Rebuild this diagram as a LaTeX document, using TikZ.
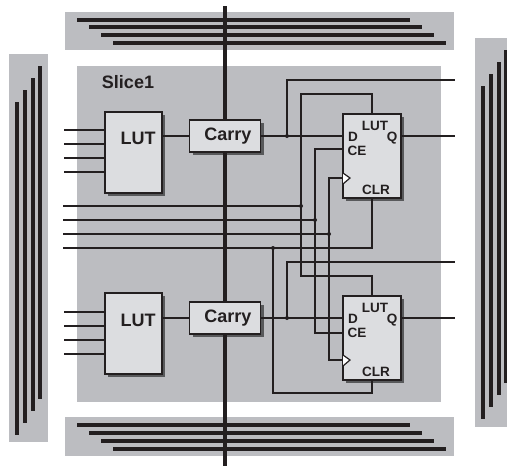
\documentclass[tikz,border=0pt]{standalone}
\usepackage{fontspec}
\setmainfont{Liberation Sans}
\usetikzlibrary{positioning,shadows}
\definecolor{slicegray}{RGB}{188,189,193}
\definecolor{boxgray}{RGB}{220,221,224}
\definecolor{wireblack}{RGB}{35,31,32}
\definecolor{shadowgray}{RGB}{88,89,91}
\tikzset{
  panel/.style={fill=slicegray,draw=none},
  trackline/.style={line width=4pt,color=wireblack},
  wire/.style={line width=2pt,color=wireblack},
  blockbox/.style={draw=wireblack,line width=1.2pt,fill=boxgray,inner sep=0pt,outer sep=0pt,
    drop shadow={shadow xshift=3pt,shadow yshift=-3pt,fill=shadowgray,opacity=1}},
  lutbox/.style={blockbox,minimum width=57pt,minimum height=81pt},
  carrybox/.style={blockbox,minimum width=71pt,minimum height=32pt},
  ffbox/.style={blockbox,minimum width=58pt,minimum height=84pt},
  biglabel/.style={anchor=base,inner sep=0pt,text=wireblack,font=\bfseries\fontsize{18}{20}\selectfont},
  pinlabel/.style={anchor=base,inner sep=0pt,text=wireblack,font=\bfseries\fontsize{13.5}{15}\selectfont},
  junction/.style={circle,fill=wireblack,inner sep=0pt,minimum size=4pt},
}
\begin{document}
\begin{tikzpicture}[x=1pt,y=-1pt]
    \useasboundingbox (0,0) rectangle (507,466);
    % routing channels
    \fill[panel] (65,12) rectangle (454,50);
    \fill[panel] (65,417) rectangle (454,456);
    \fill[panel] (9,54) rectangle (48,442);
    \fill[panel] (475,38) rectangle (507,427);
    \fill[panel] (77,66) rectangle (441,402);
    \draw[trackline] (77,20)--(410,20);
    \draw[trackline] (89,27)--(422,27);
    \draw[trackline] (101,35)--(434,35);
    \draw[trackline] (113,43)--(446,43);
    \draw[trackline] (77,425)--(410,425);
    \draw[trackline] (89,433)--(422,433);
    \draw[trackline] (101,441)--(434,441);
    \draw[trackline] (113,449)--(446,449);
    \draw[trackline] (17,102)--(17,435);
    \draw[trackline] (25,90)--(25,423);
    \draw[trackline] (33,78)--(33,411);
    \draw[trackline] (40,66)--(40,399);
    \draw[trackline] (483,86)--(483,419);
    \draw[trackline] (491,74)--(491,407);
    \draw[trackline] (499,62)--(499,395);
    \draw[trackline] (506,50)--(506,383);

    % blocks
    \node[lutbox] (lutA) at (133.5,152.5) {};
    \node[lutbox] (lutB) at (133.5,333.5) {};
    \node[carrybox] (carryA) at (225,136) {};
    \node[carrybox] (carryB) at (225,318) {};
    \node[ffbox] (ffA) at (372,156) {};
    \node[ffbox] (ffB) at (372,338) {};

    \node[biglabel] (sliceName) at (128,88) {Slice1};
    \node[biglabel] (lutAName) at (138,144) {LUT};
    \node[biglabel] (lutBName) at (138,326) {LUT};
    \node[biglabel] (carryAName) at (228,140) {Carry};
    \node[biglabel] (carryBName) at (228,322) {Carry};

    \node[pinlabel] (ffALut) at (375,130) {LUT};
    \node[pinlabel] (ffAD) at (353,141) {D};
    \node[pinlabel] (ffAQ) at (392,141) {Q};
    \node[pinlabel] (ffACe) at (357,155) {CE};
    \node[pinlabel] (ffAClr) at (376,194) {CLR};
    \node[pinlabel] (ffBLut) at (375,312) {LUT};
    \node[pinlabel] (ffBD) at (353,323) {D};
    \node[pinlabel] (ffBQ) at (392,323) {Q};
    \node[pinlabel] (ffBCe) at (357,337) {CE};
    \node[pinlabel] (ffBClr) at (376,376) {CLR};

    % free ends
    \coordinate (carryTop) at (225,6);
    \coordinate (carryEnd) at (225,466);
    \coordinate (inA) at (64,130);
    \coordinate (inB) at (64,144);
    \coordinate (inC) at (64,158);
    \coordinate (inD) at (64,172);
    \coordinate (inE) at (64,312);
    \coordinate (inF) at (64,326);
    \coordinate (inG) at (64,340);
    \coordinate (inH) at (64,354);
    \coordinate (shareA) at (63,206);
    \coordinate (shareB) at (63,220);
    \coordinate (shareC) at (63,234);
    \coordinate (shareD) at (63,248);
    \coordinate (outA) at (455,80);
    \coordinate (outB) at (455,136);
    \coordinate (outC) at (455,262);
    \coordinate (outD) at (455,318);
    \coordinate (clkA) at (343,178);
    \coordinate (clkB) at (343,360);

    \node[junction] (tapA) at (287,136) {};
    \node[junction] (tapB) at (287,318) {};
    \node[junction] (tapSr) at (301,206) {};
    \node[junction] (tapCe) at (315,220) {};
    \node[junction] (tapClk) at (329,234) {};
    \node[junction] (tapClr) at (273,248) {};

    % carry chain
    \draw[trackline] (carryTop)--(carryA.north);
    \draw[trackline] (carryA.south)--(carryB.north);
    \draw[trackline] (carryB.south)--(carryEnd);

    % LUT inputs
    \draw[wire] (inA)--(inA -| lutA.west);
    \draw[wire] (inB)--(inB -| lutA.west);
    \draw[wire] (inC)--(inC -| lutA.west);
    \draw[wire] (inD)--(inD -| lutA.west);
    \draw[wire] (inE)--(inE -| lutB.west);
    \draw[wire] (inF)--(inF -| lutB.west);
    \draw[wire] (inG)--(inG -| lutB.west);
    \draw[wire] (inH)--(inH -| lutB.west);

    % data path
    \draw[wire] (lutA.east |- carryA)--(carryA.west);
    \draw[wire] (lutB.east |- carryB)--(carryB.west);
    \draw[wire] (carryA.east)--(carryA -| ffA.west);
    \draw[wire] (carryB.east)--(carryB -| ffB.west);
    \draw[wire] (tapA.center)|-(outA);
    \draw[wire] (tapB.center)|-(outC);
    \draw[wire] (outB -| ffA.east)--(outB);
    \draw[wire] (outD -| ffB.east)--(outD);

    % shared control lines
    \draw[wire] (shareA)--(tapSr.center);
    \draw[wire] (shareB)--(tapCe.center);
    \draw[wire] (shareC)--(tapClk.center);
    \draw[wire] (shareD)--(tapClr.center);
    \draw[wire] (ffA.north)|-(301,94)--(tapSr.center);
    \draw[wire] (ffB.north)|-(301,276)--(tapSr.center);
    \draw[wire] (ffA.west |- 0,149)-|(tapCe.center);
    \draw[wire] (ffB.west |- 0,333)-|(tapCe.center);
    \draw[wire] (clkA)-|(tapClk.center);
    \draw[wire] (clkB)-|(tapClk.center);
    \draw[wire] (ffA.south)|-(tapClr.center);
    \draw[wire] (ffB.south)|-(273,393)--(tapClr.center);

    % clock marks
    \draw[line width=1.2pt,color=wireblack,fill=white] (343,173)--(350,178)--(343,184);
    \draw[line width=1.2pt,color=wireblack,fill=white] (343,355)--(350,360)--(343,366);
\end{tikzpicture}
\end{document}
